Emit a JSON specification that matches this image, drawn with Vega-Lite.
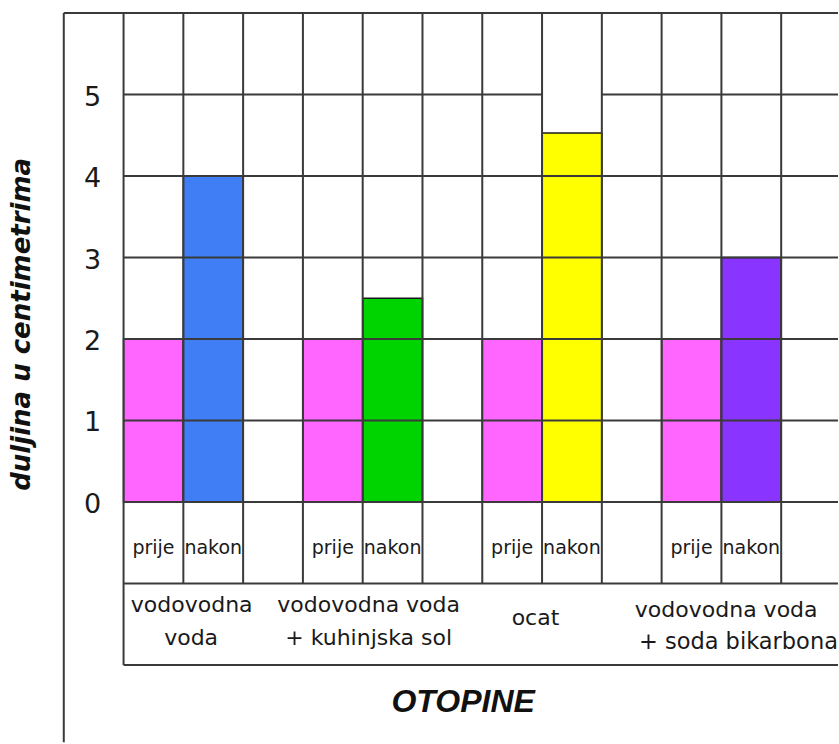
{
  "$schema": "https://vega.github.io/schema/vega-lite/v6.json",
  "width": 839,
  "height": 744,
  "autosize": {"type": "fit", "contains": "padding"},
  "padding": 0,
  "background": "white",
  "view": {"stroke": null},
  "datasets": {
    "bars": [
      {"otopina": "vodovodna voda", "mjerenje": "prije", "x0": 0, "x1": 1, "duljina": 2, "boja": "prije"},
      {"otopina": "vodovodna voda", "mjerenje": "nakon", "x0": 1, "x1": 2, "duljina": 4, "boja": "voda"},
      {"otopina": "vodovodna voda + kuhinjska sol", "mjerenje": "prije", "x0": 3, "x1": 4, "duljina": 2, "boja": "prije"},
      {"otopina": "vodovodna voda + kuhinjska sol", "mjerenje": "nakon", "x0": 4, "x1": 5, "duljina": 2.5, "boja": "sol"},
      {"otopina": "ocat", "mjerenje": "prije", "x0": 6, "x1": 7, "duljina": 2, "boja": "prije"},
      {"otopina": "ocat", "mjerenje": "nakon", "x0": 7, "x1": 8, "duljina": 4.53, "boja": "ocat"},
      {"otopina": "vodovodna voda + soda bikarbona", "mjerenje": "prije", "x0": 9, "x1": 10, "duljina": 2, "boja": "prije"},
      {"otopina": "vodovodna voda + soda bikarbona", "mjerenje": "nakon", "x0": 10, "x1": 11, "duljina": 3, "boja": "soda"}
    ],
    "lines": [
      {"xa": -1, "xb": -1, "ya": 6, "yb": -2.95},
      {"xa": -1, "xb": 11.95, "ya": 6, "yb": 6},
      {"xa": 0, "xb": 0, "ya": 6, "yb": -2},
      {"xa": 1, "xb": 1, "ya": 6, "yb": -1},
      {"xa": 2, "xb": 2, "ya": 6, "yb": -1},
      {"xa": 3, "xb": 3, "ya": 6, "yb": -1},
      {"xa": 4, "xb": 4, "ya": 6, "yb": -1},
      {"xa": 5, "xb": 5, "ya": 6, "yb": -1},
      {"xa": 6, "xb": 6, "ya": 6, "yb": -1},
      {"xa": 7, "xb": 7, "ya": 6, "yb": -1},
      {"xa": 8, "xb": 8, "ya": 6, "yb": -1},
      {"xa": 9, "xb": 9, "ya": 6, "yb": -1},
      {"xa": 10, "xb": 10, "ya": 6, "yb": -1},
      {"xa": 11, "xb": 11, "ya": 6, "yb": -1},
      {"xa": 0, "xb": 7, "ya": 5, "yb": 5},
      {"xa": 8, "xb": 11.95, "ya": 5, "yb": 5},
      {"xa": 0, "xb": 11.95, "ya": 4, "yb": 4},
      {"xa": 0, "xb": 11.95, "ya": 3, "yb": 3},
      {"xa": 0, "xb": 11.95, "ya": 2, "yb": 2},
      {"xa": 0, "xb": 11.95, "ya": 1, "yb": 1},
      {"xa": 0, "xb": 11.95, "ya": 0, "yb": 0},
      {"xa": 0, "xb": 11.95, "ya": -1, "yb": -1},
      {"xa": 0, "xb": 11.95, "ya": -2, "yb": -2}
    ],
    "ylabels": [
      {"v": 0, "t": "0"}, {"v": 1, "t": "1"}, {"v": 2, "t": "2"},
      {"v": 3, "t": "3"}, {"v": 4, "t": "4"}, {"v": 5, "t": "5"}
    ],
    "cells": [
      {"x": 0.5, "t": "prije"}, {"x": 1.5, "t": "nakon"},
      {"x": 3.5, "t": "prije"}, {"x": 4.5, "t": "nakon"},
      {"x": 6.5, "t": "prije"}, {"x": 7.5, "t": "nakon"},
      {"x": 9.5, "t": "prije"}, {"x": 10.5, "t": "nakon"}
    ],
    "groups": [
      {"x": 1.14, "y": -1.26, "t": "vodovodna"},
      {"x": 1.13, "y": -1.665, "t": "voda"},
      {"x": 4.1, "y": -1.27, "t": "vodovodna voda"},
      {"x": 4.1, "y": -1.665, "t": "+ kuhinjska sol"},
      {"x": 6.89, "y": -1.42, "t": "ocat"},
      {"x": 10.08, "y": -1.32, "t": "vodovodna voda"}
    ],
    "groupsLeft": [
      {"x": 8.62, "y": -1.72, "t": "+ soda bikarbona"}
    ],
    "ytitle": [{"x": -1.7, "y": 2.18, "t": "duljina u centimetrima"}],
    "xtitle": [{"x": 5.68, "y": -2.46, "t": "OTOPINE"}]
  },
  "encoding": {
    "x": {"type": "quantitative", "scale": {"domain": [-2.0667, 11.9167], "nice": false, "zero": false}, "axis": null},
    "y": {"type": "quantitative", "scale": {"domain": [-2.934, 6.161], "nice": false, "zero": false}, "axis": null}
  },
  "layer": [
    {
      "data": {"name": "bars"},
      "mark": {"type": "rect", "stroke": "#1a1a1a", "strokeWidth": 1.5},
      "encoding": {
        "x": {"field": "x0", "type": "quantitative"},
        "x2": {"field": "x1"},
        "y": {"field": "duljina", "type": "quantitative"},
        "y2": {"datum": 0},
        "color": {
          "field": "boja", "type": "nominal", "legend": null,
          "scale": {"domain": ["prije", "voda", "sol", "ocat", "soda"], "range": ["#ff66ff", "#3f7ef5", "#00d400", "#ffff00", "#8a35ff"]}
        }
      }
    },
    {
      "data": {"name": "lines"},
      "mark": {"type": "rule", "color": "#3a3a3a", "strokeWidth": 2},
      "encoding": {
        "x": {"field": "xa", "type": "quantitative"},
        "x2": {"field": "xb"},
        "y": {"field": "ya", "type": "quantitative"},
        "y2": {"field": "yb"}
      }
    },
    {
      "data": {"name": "ylabels"},
      "mark": {"type": "text", "font": "DejaVu Sans", "fontSize": 27, "color": "#1a1a1a", "align": "center", "baseline": "middle", "dy": 3},
      "encoding": {
        "x": {"datum": -0.52, "type": "quantitative"},
        "y": {"field": "v", "type": "quantitative"},
        "text": {"field": "t"}
      }
    },
    {
      "data": {"name": "cells"},
      "mark": {"type": "text", "font": "DejaVu Sans", "fontSize": 19, "color": "#1a1a1a", "align": "center", "baseline": "middle"},
      "encoding": {
        "x": {"field": "x", "type": "quantitative"},
        "y": {"datum": -0.56, "type": "quantitative"},
        "text": {"field": "t"}
      }
    },
    {
      "data": {"name": "groups"},
      "mark": {"type": "text", "font": "DejaVu Sans", "fontSize": 22, "color": "#1a1a1a", "align": "center", "baseline": "middle"},
      "encoding": {
        "x": {"field": "x", "type": "quantitative"},
        "y": {"field": "y", "type": "quantitative"},
        "text": {"field": "t"}
      }
    },
    {
      "data": {"name": "groupsLeft"},
      "mark": {"type": "text", "font": "DejaVu Sans", "fontSize": 22.5, "color": "#1a1a1a", "align": "left", "baseline": "middle"},
      "encoding": {
        "x": {"field": "x", "type": "quantitative"},
        "y": {"field": "y", "type": "quantitative"},
        "text": {"field": "t"}
      }
    },
    {
      "data": {"name": "ytitle"},
      "mark": {"type": "text", "font": "DejaVu Sans", "fontSize": 26, "fontWeight": "bold", "fontStyle": "italic", "color": "#111", "angle": 270, "align": "center", "baseline": "middle"},
      "encoding": {
        "x": {"field": "x", "type": "quantitative"},
        "y": {"field": "y", "type": "quantitative"},
        "text": {"field": "t"}
      }
    },
    {
      "data": {"name": "xtitle"},
      "mark": {"type": "text", "font": "Liberation Sans", "fontSize": 32, "fontWeight": "bold", "fontStyle": "italic", "color": "#111", "align": "center", "baseline": "middle"},
      "encoding": {
        "x": {"field": "x", "type": "quantitative"},
        "y": {"field": "y", "type": "quantitative"},
        "text": {"field": "t"}
      }
    }
  ]
}
